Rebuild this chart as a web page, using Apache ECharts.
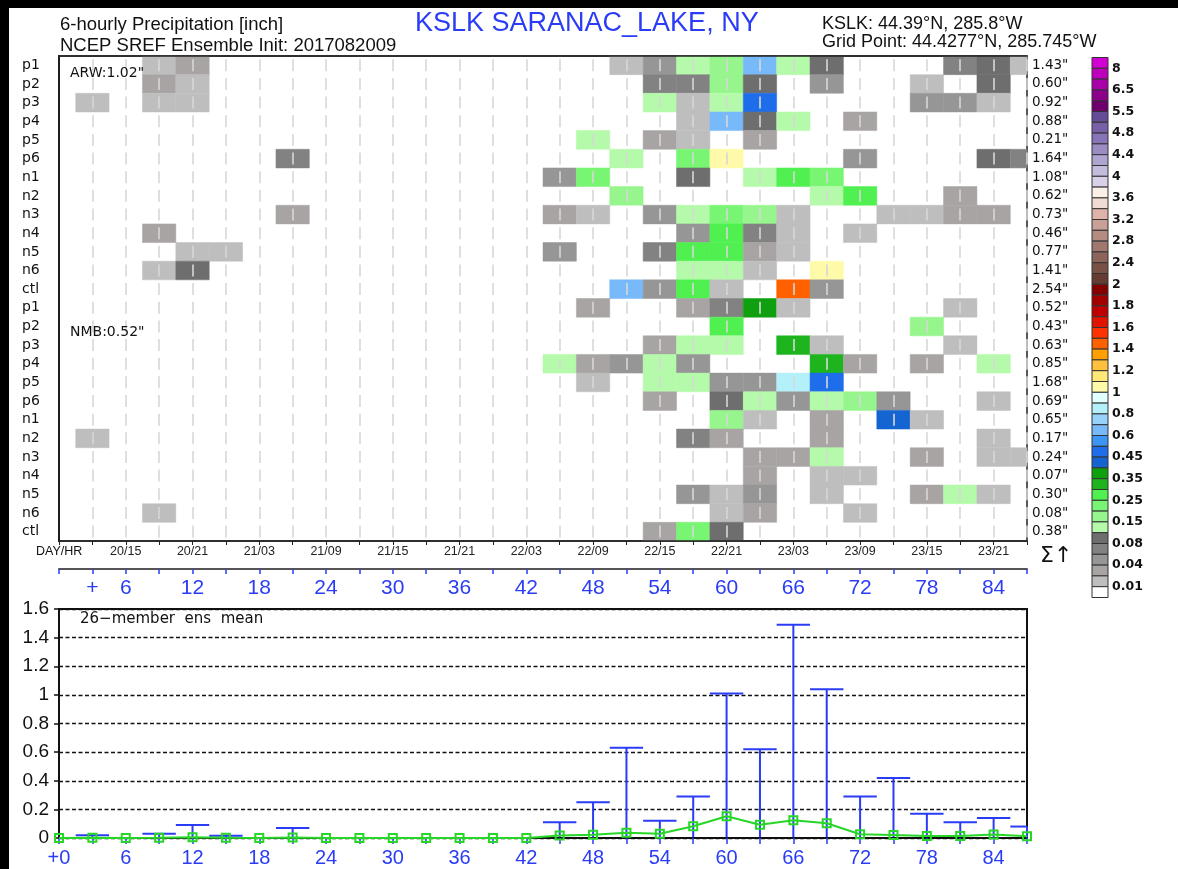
<!DOCTYPE html>
<html><head><meta charset="utf-8">
<script src="https://cdn.jsdelivr.net/npm/echarts/dist/echarts.min.js"></script>
<style>html,body{margin:0;padding:0;background:#000}#c{width:1178px;height:869px}</style>
</head><body><div id="c"></div><script>
// ---------------- DATA ----------------
const memberNames = ['p1','p2','p3','p4','p5','p6','n1','n2','n3','n4','n5','n6','ctl'];
// sparse [forecast hour, 3-h bin precipitation (inch)]
const arwP1 = [[9,.015],[12,.03],[51,.015],[54,.05],[57,.12],[60,.17],[63,.62],[66,.12],[69,.09],[81,.07],[84,.09],[87,.015]];
const arwP2 = [[9,.03],[12,.015],[54,.07],[57,.07],[60,.17],[63,.09],[69,.05],[78,.015],[84,.09]];
const arwP3 = [[3,.015],[9,.015],[12,.015],[54,.12],[57,.015],[60,.12],[63,.47],[78,.05],[81,.05],[84,.015]];
const arwP4 = [[57,.015],[60,.62],[63,.09],[66,.12],[72,.03]];
const arwP5 = [[48,.12],[54,.03],[57,.015],[63,.03]];
const arwP6 = [[21,.07],[51,.12],[57,.22],[60,1.05],[72,.05],[84,.09],[87,.07]];
const arwN1 = [[45,.05],[48,.24],[57,.09],[63,.12],[66,.29],[69,.24]];
const arwN2 = [[51,.17],[69,.12],[72,.29],[81,.03]];
const arwN3 = [[21,.03],[45,.03],[48,.015],[54,.05],[57,.12],[60,.22],[63,.17],[66,.015],[75,.015],[78,.015],[81,.03],[84,.03]];
const arwN4 = [[9,.03],[57,.05],[60,.27],[63,.07],[66,.015],[72,.015]];
const arwN5 = [[12,.015],[15,.015],[45,.05],[54,.07],[57,.27],[60,.27],[63,.03],[66,.015]];
const arwN6 = [[9,.015],[12,.09],[57,.12],[60,.12],[63,.015],[69,1.04]];
const arwCtl = [[51,.63],[54,.05],[57,.27],[60,.015],[66,1.49],[69,.05]];
const nmbP1 = [[48,.03],[57,.03],[60,.07],[63,.37],[66,.015],[81,.015]];
const nmbP2 = [[60,.27],[78,.17]];
const nmbP3 = [[54,.03],[57,.12],[60,.12],[66,.32],[69,.015],[81,.015]];
const nmbP4 = [[45,.11],[48,.03],[51,.05],[54,.12],[57,.05],[69,.32],[72,.03],[78,.03],[84,.14]];
const nmbP5 = [[48,.015],[54,.12],[57,.12],[60,.05],[63,.05],[66,.85],[69,.47]];
const nmbP6 = [[54,.03],[60,.09],[63,.12],[66,.05],[69,.12],[72,.17],[75,.05],[84,.015]];
const nmbN1 = [[60,.17],[63,.015],[69,.03],[75,.42],[78,.015]];
const nmbN2 = [[3,.015],[57,.07],[60,.03],[69,.03],[84,.015]];
const nmbN3 = [[63,.03],[66,.03],[69,.12],[78,.03],[84,.015],[87,.015]];
const nmbN4 = [[63,.03],[69,.015],[72,.015]];
const nmbN5 = [[57,.05],[60,.015],[63,.05],[69,.015],[78,.03],[81,.11],[84,.015]];
const nmbN6 = [[9,.015],[60,.015],[63,.03],[72,.015]];
const nmbCtl = [[54,.03],[57,.22],[60,.09]];
const memberTotals = ['1.43','0.60','0.92','0.88','0.21','1.64','1.08','0.62','0.73','0.46','0.77','1.41','2.54',
                      '0.52','0.43','0.63','0.85','1.68','0.69','0.65','0.17','0.24','0.07','0.30','0.08','0.38'];
// time axis labels
const dayHrHours  = [6,12,18,24,30,36,42,48,54,60,66,72,78,84];
const dayHrLabels = ['20/15','20/21','21/03','21/09','21/15','21/21','22/03','22/09','22/15','22/21','23/03','23/09','23/15','23/21'];
const fhHours  = [3,6,12,18,24,30,36,42,48,54,60,66,72,78,84];
const fhLabels = ['+','6','12','18','24','30','36','42','48','54','60','66','72','78','84'];
const meanHours  = [0,6,12,18,24,30,36,42,48,54,60,66,72,78,84];
const meanLabels = ['+0','6','12','18','24','30','36','42','48','54','60','66','72','78','84'];
// ensemble mean and max (inch) every 3 h, hours 0..87
const ensHours = [0,3,6,9,12,15,18,21,24,27,30,33,36,39,42,45,48,51,54,57,60,63,66,69,72,75,78,81,84,87];
const ensMean  = [0,.001,0,.002,.005,.001,0,.004,0,0,0,0,0,0,0,.018,.023,.037,.03,.082,.152,.093,.124,.103,.026,.021,.014,.014,.025,.012];
const ensMax   = [0,.02,0,.03,.09,.015,0,.07,0,0,0,0,0,0,0,.11,.25,.63,.12,.29,1.01,.62,1.49,1.04,.29,.42,.17,.11,.14,.08];
// colour scale
const precipLevels = [0.01,0.02,0.04,0.06,0.08,0.1,0.15,0.2,0.25,0.3,0.35,0.4,0.45,0.5,0.6,0.7,0.8,0.9,1,1.1,1.2,1.3,1.4,1.5,1.6,1.7,1.8,1.9,2,2.2,2.4,2.6,2.8,3,3.2,3.4,3.6,3.8,4,4.2,4.4,4.6,4.8,5,5.5,6,6.5,7,8];
const precipColors = ['#ffffff','#bebebe','#a8a4a4','#969696','#828282','#6e6e6e','#b4faaa','#96f58c','#78f572','#50f050','#1eb41e','#0fa00f','#1464d2','#1e6eeb','#3c96f5','#78b9fa','#96d2fa','#b4f0fa','#e1ffff','#fffaaa','#ffe878','#ffc03c','#ffa000','#ff6000','#ff3200','#e11400','#c00000','#a50000','#870000','#643c32','#785046','#8c645a','#a0786e','#b48c82','#c8a096','#dcb4aa','#f0dcd2','#faf0e6','#d8d0e8','#c4bcdc','#b0a4d0','#9c8cc4','#8874b8','#7860a8','#644c98','#6e006e','#8c008c','#aa00aa','#be00be','#d200d2'];

// ---------------- BUILD ----------------
const memberRows = [arwP1,arwP2,arwP3,arwP4,arwP5,arwP6,arwN1,arwN2,arwN3,arwN4,arwN5,arwN6,arwCtl,
                    nmbP1,nmbP2,nmbP3,nmbP4,nmbP5,nmbP6,nmbN1,nmbN2,nmbN3,nmbN4,nmbN5,nmbN6,nmbCtl];
const rowLabels = memberNames.concat(memberNames);
const rowIdx = rowLabels.map((_, i) => i);
const cellData = [];
memberRows.forEach((row, r) => row.forEach(([h, v]) => cellData.push([h, r, v])));
function colorFor(v) { let i = 0; while (i < precipLevels.length && v >= precipLevels[i]) i++; return precipColors[i]; }
const nBox = precipColors.length;
const cbData = []; for (let k = 0; k < nBox; k++) cbData.push([0, k]);
const errData = ensHours.map((h, i) => [h, ensMax[i]]).filter(d => d[1] > 0);
const meanData = ensHours.map((h, i) => [h, ensMean[i]]);

const FC = "'Liberation Sans Narrow','DejaVu Sans Condensed','Liberation Sans',sans-serif";
const FL = "'Liberation Sans',Arial,sans-serif";
const FD = "'DejaVu Sans','Liberation Sans',sans-serif";
const BLUE = '#2a3cf5';

const chart = echarts.init(document.getElementById('c'));
chart.setOption({
  backgroundColor: '#fff',
  animation: false,
  grid: [
    {left: 59, top: 56, width: 968, height: 485, show: true, backgroundColor: '#fff', borderColor: '#222', borderWidth: 1.5, outerBoundsMode: 'none'},
    {left: 59, top: 609, width: 968, height: 229, show: true, backgroundColor: '#fff', borderColor: '#111', borderWidth: 2, outerBoundsMode: 'none'},
    {left: 1092, top: 57.5, width: 16, height: 540, outerBoundsMode: 'none'}
  ],
  xAxis: [
    {gridIndex: 0, type: 'value', min: 0, max: 87, interval: 3, position: 'bottom', z: 3,
     axisLine: {show: true, onZero: false, lineStyle: {color: '#222', width: 1.5}},
     axisTick: {show: true, length: 4, lineStyle: {color: '#222'}},
     axisLabel: {margin: 4, fontFamily: FL, fontSize: 12.5, color: '#222',
       formatter: v => { const i = dayHrHours.indexOf(v); return i >= 0 ? dayHrLabels[i] : ''; }},
     splitLine: {show: true, lineStyle: {color: 'rgba(215,215,215,0.8)', width: 2, type: [12, 6.65], dashOffset: 15.35}}},
    {gridIndex: 0, type: 'value', min: 0, max: 87, interval: 3, position: 'bottom', offset: 28,
     axisLine: {show: true, onZero: false, lineStyle: {color: '#555', width: 2}},
     axisTick: {show: true, length: 5, lineStyle: {color: BLUE, width: 1.5}},
     axisLabel: {margin: 9, fontFamily: FL, fontSize: 21, color: BLUE,
       formatter: v => { const i = fhHours.indexOf(v); return i >= 0 ? fhLabels[i] : ''; }},
     splitLine: {show: false}},
    {gridIndex: 1, type: 'value', min: 0, max: 87, interval: 3, position: 'bottom', z: 3,
     axisLine: {show: true, onZero: false, lineStyle: {color: '#111', width: 1.5}},
     axisTick: {show: true, length: 6, lineStyle: {color: BLUE, width: 1.5}},
     axisLabel: {margin: 10, fontFamily: FL, fontSize: 20, color: BLUE,
       formatter: v => { const i = meanHours.indexOf(v); return i >= 0 ? meanLabels[i] : ''; }},
     splitLine: {show: false}},
    {gridIndex: 2, type: 'value', min: 0, max: 1, show: false},
    {gridIndex: 0, type: 'value', min: 0, max: 87, position: 'top', z: 3,
     axisLine: {show: true, onZero: false, lineStyle: {color: '#222', width: 1.5}},
     axisTick: {show: false}, axisLabel: {show: false}, splitLine: {show: false}}
  ],
  yAxis: [
    {gridIndex: 0, type: 'category', data: rowIdx, inverse: true, position: 'left', z: 3,
     axisLine: {show: true, lineStyle: {color: '#111', width: 2}}, axisTick: {show: false},
     axisLabel: {align: 'left', margin: 37, fontFamily: FD, fontSize: 14, color: '#111', formatter: (v, i) => rowLabels[i]}},
    {gridIndex: 0, type: 'category', data: rowIdx, inverse: true, position: 'right', z: 3,
     axisLine: {show: true, lineStyle: {color: '#222', width: 1.5}}, axisTick: {show: false},
     axisLabel: {align: 'left', margin: 5, fontFamily: FD, fontSize: 13.5, color: '#111', formatter: (v, i) => memberTotals[i] + '"'}},
    {gridIndex: 1, type: 'value', min: 0, max: 1.6, interval: 0.2, z: 3,
     axisLine: {show: true, lineStyle: {color: '#111', width: 2}},
     axisTick: {show: true, length: 5, lineStyle: {color: '#111', width: 1.5}},
     axisLabel: {margin: 10, fontFamily: FL, fontSize: 19, color: '#111'},
     splitLine: {show: true, lineStyle: {color: '#111', width: 1.3, type: [4, 2.5]}}},
    {gridIndex: 2, type: 'value', min: 0, max: 50, interval: 1, inverse: true, position: 'right',
     axisLine: {show: false}, axisTick: {show: false}, splitLine: {show: false},
     axisLabel: {margin: 4, fontFamily: FD, fontSize: 12.5, fontWeight: 'bold', color: '#111',
       formatter: v => (v % 2 === 1 && v < nBox) ? String(precipLevels[nBox - 1 - v]) : ''}}
  ],
  series: [
    {type: 'custom', xAxisIndex: 0, yAxisIndex: 0, data: cellData, encode: {x: 0, y: 1}, z: 2,
     renderItem: (params, api) => {
       const h = api.value(0), r = api.value(1), v = api.value(2);
       const a = api.coord([h - 1.5, r]), b = api.coord([h + 1.5, r]);
       const bh = api.size([0, 1])[1];
       const cs = params.coordSys;
       const rect = echarts.graphic.clipRectByRect({x: a[0], y: a[1] - bh / 2, width: b[0] - a[0], height: bh},
                                                   {x: cs.x, y: cs.y, width: cs.width, height: cs.height});
       if (!rect) return;
       return {type: 'rect', shape: rect, style: {fill: colorFor(v), stroke: colorFor(v), lineWidth: 0.5}};
     }},
    {type: 'custom', xAxisIndex: 3, yAxisIndex: 3, data: cbData, encode: {x: 0, y: 1},
     renderItem: (params, api) => {
       const k = api.value(1);
       const a = api.coord([0, k]), b = api.coord([1, k + 1]);
       return {type: 'rect', shape: {x: a[0], y: a[1], width: b[0] - a[0], height: b[1] - a[1]},
               style: {fill: precipColors[nBox - 1 - k], stroke: '#333', lineWidth: 1}};
     }},
    {type: 'custom', xAxisIndex: 2, yAxisIndex: 2, data: errData, encode: {x: 0, y: 1}, z: 3,
     renderItem: (params, api) => {
       const h = api.value(0), m = api.value(1);
       const base = api.coord([h, 0]), top = api.coord([h, m]);
       const l = api.coord([h - 1.5, m]), r = api.coord([h + 1.5, m]);
       const cs = params.coordSys;
       const lx = Math.max(l[0], cs.x), rx = Math.min(r[0], cs.x + cs.width);
       return {type: 'group', children: [
         {type: 'line', shape: {x1: base[0], y1: base[1], x2: top[0], y2: top[1]}, style: {stroke: BLUE, lineWidth: 2}},
         {type: 'line', shape: {x1: lx, y1: top[1], x2: rx, y2: top[1]}, style: {stroke: BLUE, lineWidth: 2}}
       ]};
     }},
    {type: 'line', xAxisIndex: 2, yAxisIndex: 2, data: meanData, z: 4,
     symbol: 'rect', symbolSize: 8, showAllSymbol: true,
     lineStyle: {color: '#28d628', width: 2},
     itemStyle: {color: 'rgba(255,255,255,0)', borderColor: '#28d628', borderWidth: 2}}
  ],
  graphic: [
    {type: 'rect', left: 0, top: 0, shape: {width: 1178, height: 8}, style: {fill: '#000'}, z: 100},
    {type: 'rect', left: 0, top: 0, shape: {width: 9, height: 869}, style: {fill: '#000'}, z: 100},
    {type: 'text', left: 60, top: 15, style: {text: '6-hourly Precipitation [inch]', font: "18.5px " + FL, fill: '#111'}},
    {type: 'text', left: 60, top: 36, style: {text: 'NCEP SREF Ensemble Init: 2017082009', font: "18.5px " + FL, fill: '#111'}},
    {type: 'text', left: 415, top: 10, style: {text: 'KSLK SARANAC_LAKE, NY', font: "27px " + FL, fill: BLUE}},
    {type: 'text', left: 822, top: 15, style: {text: 'KSLK: 44.39°N, 285.8°W', font: "18px " + FL, fill: '#111'}},
    {type: 'text', left: 822, top: 33, style: {text: 'Grid Point: 44.4277°N, 285.745°W', font: "18px " + FL, fill: '#111'}},
    {type: 'text', left: 70, top: 66, z: 10, style: {text: 'ARW:1.02"', font: "14px " + FD, fill: '#111'}},
    {type: 'text', left: 70, top: 325, z: 10, style: {text: 'NMB:0.52"', font: "14px " + FD, fill: '#111'}},
    {type: 'text', left: 36, top: 545, style: {text: 'DAY/HR', font: "12.5px " + FL, fill: '#111'}},
    {type: 'text', left: 1040, top: 545, style: {text: 'Σ↑', font: "22px " + FD, fill: '#111'}},
    {type: 'text', left: 80, top: 612, z: 10, style: {text: '26−member  ens  mean', font: "15px " + FD, fill: '#111'}}
  ]
});
</script></body></html>
